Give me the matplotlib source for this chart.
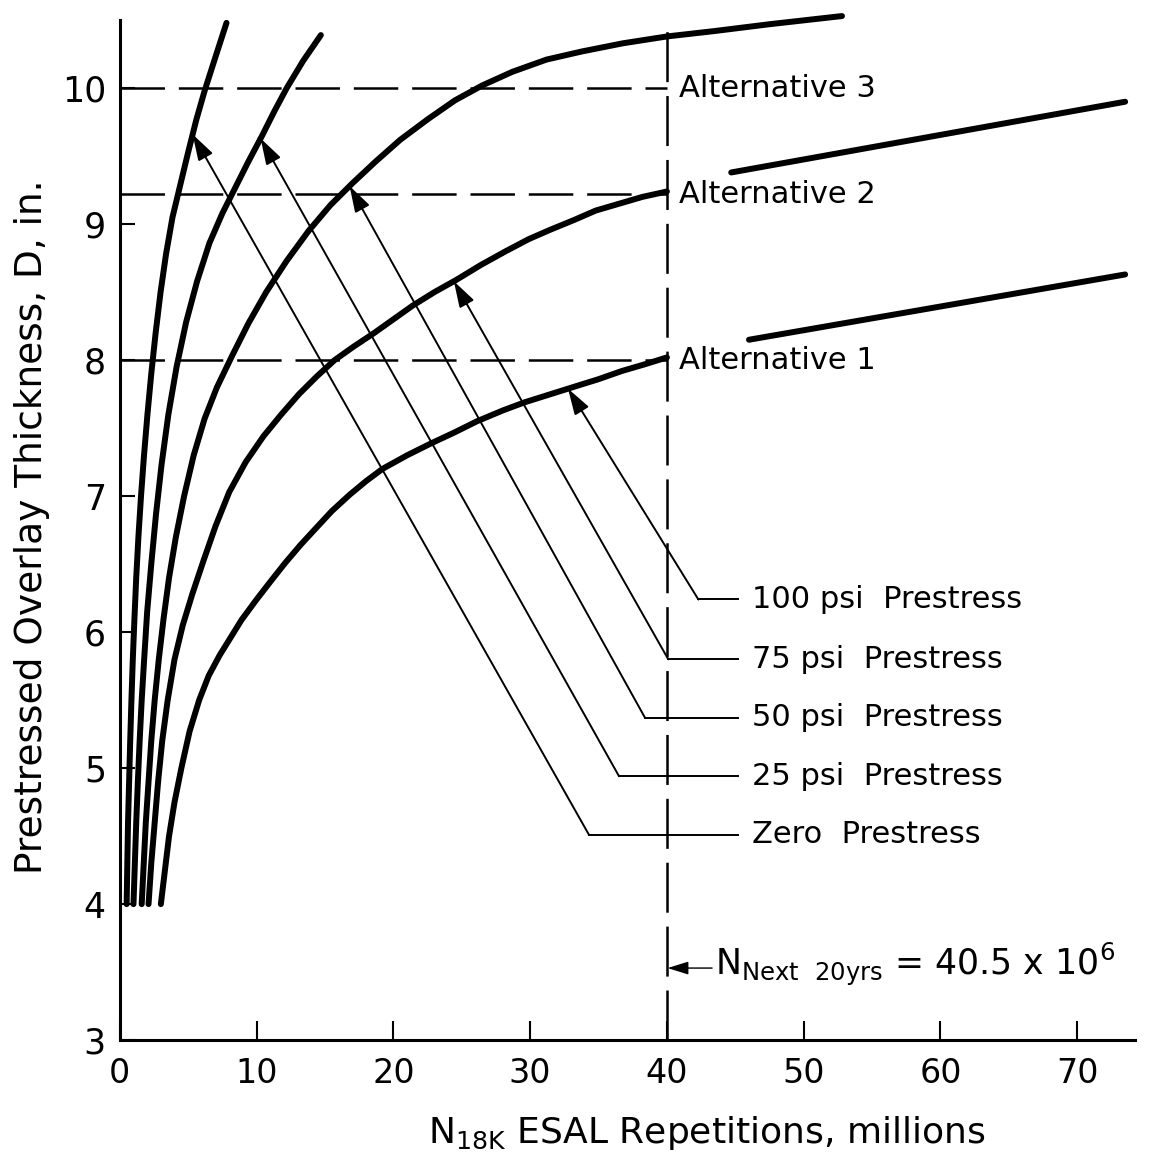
import numpy as np
import matplotlib.pyplot as plt

plt.rcParams['font.family'] = 'DejaVu Sans'
plt.rcParams['mathtext.default'] = 'regular'
plt.rcParams['lines.scale_dashes'] = False

# N18K ESAL repetitions (millions) vs overlay thickness D (in.)
zero_n = [0.5, 0.55, 0.6, 0.68, 0.76, 0.85, 0.95, 1.07, 1.2, 1.36, 1.55, 1.77, 2.02, 2.3,
          2.62, 2.98, 3.38, 3.85, 4.4, 5.0, 5.6, 6.2, 6.9, 7.8]
zero_d = [4.0, 4.3, 4.6, 4.9, 5.2, 5.5, 5.8, 6.1, 6.4, 6.7, 7.0, 7.3, 7.6, 7.9,
          8.2, 8.5, 8.78, 9.05, 9.28, 9.53, 9.77, 9.98, 10.2, 10.48]

p25_n = [1.0, 1.1, 1.2, 1.32, 1.45, 1.6, 1.78, 2.0, 2.3, 2.65, 3.05, 3.55, 4.15, 4.85,
         5.65, 6.55, 7.5, 8.4, 9.4, 10.4, 11.3, 12.2, 13.4, 14.7]
p25_d = [4.0, 4.3, 4.6, 4.9, 5.2, 5.5, 5.8, 6.15, 6.5, 6.87, 7.23, 7.6, 7.95, 8.28,
         8.58, 8.86, 9.08, 9.26, 9.46, 9.65, 9.83, 10.0, 10.2, 10.39]

p50_n = [1.6, 1.75, 1.9, 2.1, 2.3, 2.55, 2.85, 3.2, 3.6, 4.1, 4.7, 5.4, 6.2, 7.1, 8.2,
         9.4, 10.7, 12.2, 13.8, 15.4, 17.0, 18.7, 20.5, 22.5, 24.5, 26.5, 28.7, 31.2,
         33.8, 36.8, 40.0, 43.5, 47.5, 52.8]
p50_d = [4.0, 4.3, 4.6, 4.9, 5.2, 5.5, 5.8, 6.1, 6.4, 6.7, 7.0, 7.3, 7.57, 7.8, 8.03,
         8.27, 8.5, 8.73, 8.95, 9.14, 9.3, 9.46, 9.62, 9.77, 9.91, 10.02, 10.12, 10.21,
         10.27, 10.33, 10.38, 10.42, 10.47, 10.53]

p75_n = [2.1, 2.3, 2.55, 2.8, 3.1, 3.5, 4.0, 4.6, 5.3, 6.1, 7.0, 8.0, 9.2, 10.5, 11.8,
         13.1, 14.4, 15.7, 17.1, 18.6, 20.0, 21.4, 23.0, 24.6, 26.4, 28.2, 29.9, 31.5,
         33.2, 34.8, 36.5, 38.2, 40.0]
p75_d = [4.0, 4.3, 4.6, 4.9, 5.2, 5.5, 5.8, 6.05, 6.28, 6.52, 6.78, 7.03, 7.25, 7.44, 7.6,
         7.75, 7.88, 8.0, 8.1, 8.2, 8.3, 8.4, 8.5, 8.59, 8.7, 8.8, 8.89, 8.96,
         9.03, 9.1, 9.15, 9.2, 9.24]
p75_ext_n = [44.7, 73.5]
p75_ext_d = [9.38, 9.9]

p100_n = [3.0, 3.3, 3.6, 4.0, 4.5, 5.1, 5.8, 6.5, 7.3, 8.1, 8.9, 10.0, 11.0, 12.1, 13.2,
          14.3, 15.5, 16.8, 18.0, 19.2, 21.0, 22.8, 24.5, 26.1, 28.0, 29.6, 31.5, 33.4,
          35.0, 36.7, 38.4, 40.0]
p100_d = [4.0, 4.25, 4.5, 4.75, 5.0, 5.27, 5.5, 5.68, 5.83, 5.96, 6.09, 6.24, 6.37, 6.51, 6.64,
          6.76, 6.89, 7.01, 7.11, 7.2, 7.3, 7.39, 7.47, 7.55, 7.63, 7.69, 7.75, 7.81,
          7.86, 7.92, 7.97, 8.02]
p100_ext_n = [46.0, 73.5]
p100_ext_d = [8.15, 8.63]

curve_labels = ['Zero  Prestress', '25 psi  Prestress', '50 psi  Prestress',
                '75 psi  Prestress', '100 psi  Prestress']
tip_d = [9.66, 9.63, 9.28, 8.58, 7.79]
corner_n = [34.3, 36.5, 38.4, 40.1, 42.3]
label_d = [4.51, 4.94, 5.37, 5.80, 6.24]

alt_d = [8.0, 9.22, 10.0]
alt_names = ['Alternative 1', 'Alternative 2', 'Alternative 3']
n_next = 40.0

x_ticks = [0, 10, 20, 30, 40, 50, 60, 70]
y_ticks = [3, 4, 5, 6, 7, 8, 9, 10]

fig = plt.figure(figsize=(11.52, 11.57), dpi=100)
ax = fig.add_axes([0.104, 0.101, 0.881, 0.8816])
ax.set_xlim(0, 74.2)
ax.set_ylim(3, 10.5)

curves = [(zero_n, zero_d), (p25_n, p25_d), (p50_n, p50_d), (p75_n, p75_d), (p100_n, p100_d)]
for n, d in curves:
    ax.plot(n, d, color='k', lw=4.3, solid_capstyle='round', solid_joinstyle='round',
            clip_on=False)
for n, d in [(p75_ext_n, p75_ext_d), (p100_ext_n, p100_ext_d)]:
    ax.plot(n, d, color='k', lw=4.3, solid_capstyle='round', clip_on=False)

# alternatives and the design traffic line
for d in alt_d:
    ax.plot([0, n_next], [d, d], color='k', lw=1.8, ls=(0, (32, 10)))
ax.plot([n_next, n_next], [3, 10.48], color='k', lw=1.8, ls=(0, (36, 10)), clip_on=False)
for d, name in zip(alt_d, alt_names):
    ax.text(n_next + 0.9, d, name, fontsize=22, va='center', ha='left')

# leaders from labels to curves
line_end = 45.2
for (n, d), lab, td, cn, ld in zip(curves, curve_labels, tip_d, corner_n, label_d):
    tn = np.interp(td, d, n)
    ax.plot([cn, line_end], [ld, ld], color='k', lw=1.4)
    ax.annotate('', xy=(tn, td), xytext=(cn, ld),
                arrowprops=dict(arrowstyle='-|>,head_length=0.8,head_width=0.25',
                                mutation_scale=20, lw=1.4, color='k',
                                shrinkA=0, shrinkB=0))
    ax.text(line_end + 1.0, ld, lab, fontsize=22, va='center', ha='left')

ax.annotate('', xy=(n_next + 0.05, 3.53), xytext=(43.3, 3.53),
            arrowprops=dict(arrowstyle='-|>,head_length=0.8,head_width=0.25',
                            mutation_scale=16, lw=1.0, color='k',
                            shrinkA=0, shrinkB=0))
ax.text(43.5, 3.56, r'N$_{Next\ \ 20yrs}$ = 40.5 x 10$^{6}$', fontsize=25,
        va='center', ha='left')

for side in ['top', 'right']:
    ax.spines[side].set_visible(False)
for side in ['left', 'bottom']:
    ax.spines[side].set_linewidth(2.2)
ax.set_xticks(x_ticks)
ax.set_yticks(y_ticks)
ax.tick_params(axis='x', direction='in', length=14, width=1.5, labelsize=24, pad=12)
ax.tick_params(axis='y', direction='in', length=11, width=1.5, labelsize=25, pad=10)

fig.text(0.028, 0.545, 'Prestressed Overlay Thickness, D, in.', rotation=90,
         fontsize=27, ha='center', va='center')
fig.text(0.614, 0.021, r'N$_{18K}$ ESAL Repetitions, millions', fontsize=26,
         ha='center', va='center')

fig.savefig('out.png', dpi=100)
